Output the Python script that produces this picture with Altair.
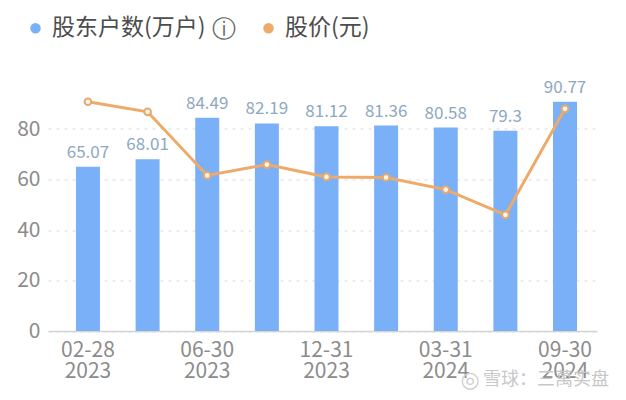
import altair as alt
import pandas as pd

dates = ["02-28\n2023", "03-31\n2023", "06-30\n2023", "09-30\n2023", "12-31\n2023",
         "01-31\n2024", "03-31\n2024", "06-30\n2024", "09-30\n2024"]
holders = [65.07, 68.01, 84.49, 82.19, 81.12, 81.36, 80.58, 79.3, 90.77]
price = [90.8, 86.8, 61.6, 65.9, 61, 60.8, 56, 46, 88]
shown_ticks = ["02-28\n2023", "06-30\n2023", "12-31\n2023", "03-31\n2024", "09-30\n2024"]
y_ticks = [0, 20, 40, 60, 80]
s1 = "股东户数(万户)"
s2 = "股价(元)"
FONT = "Noto Sans CJK SC"

df = pd.DataFrame({"d": dates, "h": holders, "p": price,
                   "label": [str(v) for v in holders], "s1": s1, "s2": s2})

xs = alt.Scale(domain=dates, paddingInner=0.6, paddingOuter=0.403, align=0.583)
ys = alt.Scale(domain=[0, 100])
cs = alt.Scale(domain=[s1, s2], range=["#7ab0f7", "#eeaa68"])
x = alt.X("d:N", scale=xs, sort=dates, title=None,
          axis=alt.Axis(values=shown_ticks, labelAngle=0, ticks=False, grid=False,
                        domainColor="#d4d4d4", domainWidth=1.5, labelColor="#8c8c8c",
                        labelFontSize=21, labelFont=FONT, labelPadding=8, labelLineHeight=21,
                        labelExpr="split(datum.value, '\\n')"))

legend = alt.Legend(title=None, orient="none", legendX=-24, legendY=-62, columns=2,
                    symbolType="circle", symbolSize=110, symbolStrokeWidth=0,
                    labelFontSize=23, labelFont=FONT, labelColor="#4d4d4d",
                    columnPadding=51, labelOffset=5, labelLimit=300)

bars = alt.Chart(df).mark_bar(size=24).encode(
    x=x,
    y=alt.Y("h:Q", scale=ys, title=None,
            axis=alt.Axis(values=y_ticks, ticks=False, domain=False, grid=True,
                          gridColor="#dcdcdc", gridDash=[3, 5], gridWidth=1.2,
                          labelColor="#8c8c8c", labelFontSize=21, labelFont=FONT, labelPadding=8)),
    fill=alt.Fill("s1:N", scale=cs, legend=legend),
)
labels = alt.Chart(df).mark_text(baseline="bottom", dy=-5, fontSize=17, font=FONT, color="#8ea8bf").encode(
    x=alt.X("d:N", scale=xs, sort=dates), y=alt.Y("h:Q", scale=ys), text="label:N")
line = alt.Chart(df).mark_line(strokeWidth=3).encode(
    x=alt.X("d:N", scale=xs, sort=dates), y=alt.Y("p:Q", scale=ys),
    stroke=alt.Stroke("s2:N", scale=cs, legend=legend))
pts = alt.Chart(df).mark_point(filled=True, size=45, fill="#fff6e8", stroke="#e5a96f",
                               strokeWidth=2, opacity=1).encode(
    x=alt.X("d:N", scale=xs, sort=dates), y=alt.Y("p:Q", scale=ys))

info_df = pd.DataFrame({"t": ["ⓘ"]})
info = alt.Chart(info_df).mark_text(fontSize=24, font="DejaVu Sans", color="#666666", align="center").encode(
    x=alt.value(176), y=alt.value(-49), text="t:N")
wm_df = pd.DataFrame({"t": ["雪球：三萬实盘"]})
wm = alt.Chart(wm_df).mark_text(fontSize=18, font=FONT, color="#c8c8c8", align="right").encode(
    x=alt.value(561), y=alt.value(301), text="t:N")
logo_df = pd.DataFrame({"t": ["◎"]})
logo = alt.Chart(logo_df).mark_text(fontSize=22, font="DejaVu Sans", color="#d0d0d0", align="center").encode(
    x=alt.value(422), y=alt.value(301), text="t:N")

chart = alt.layer(bars, labels, line, pts, info, wm, logo).resolve_scale(x="shared", y="shared").properties(
    width=549, height=252.5,
    autosize=alt.AutoSizeParams(type="none"),
    padding={"left": 40, "top": 70.5, "right": 21, "bottom": 61},
).configure_view(stroke=None)

chart.save("out.html", embed_options={"renderer": "svg", "actions": False})
